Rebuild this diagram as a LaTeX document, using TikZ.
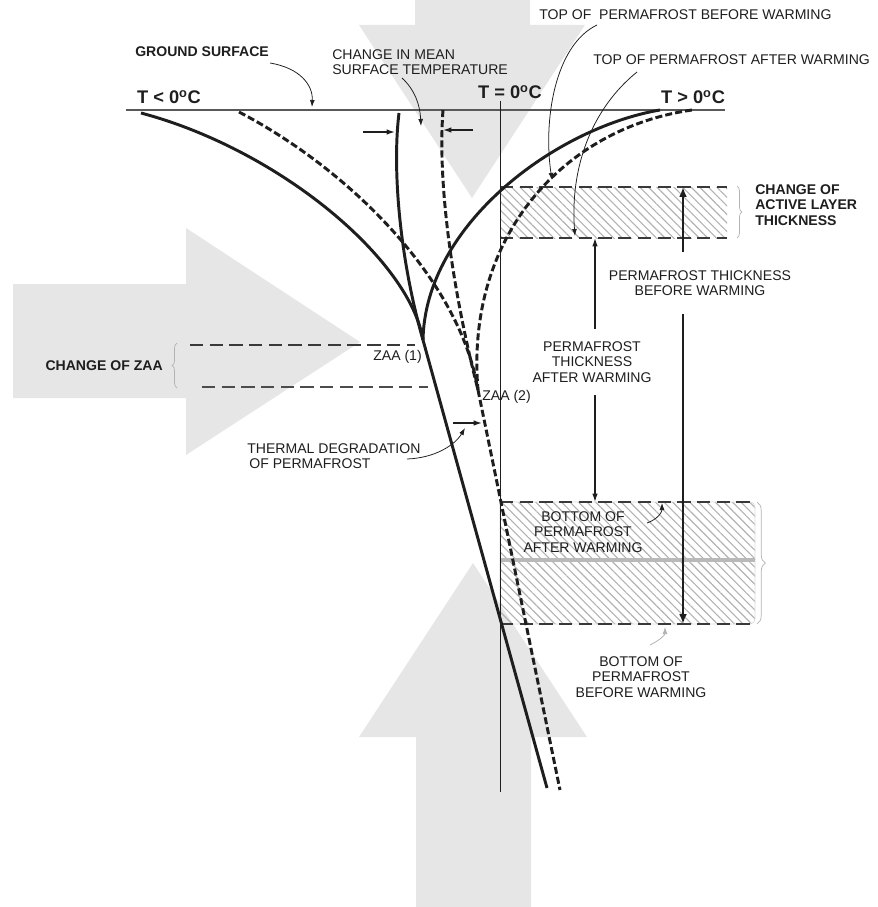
\documentclass[tikz,border=0pt]{standalone}
\usepackage{fontspec}
\setmainfont{Liberation Sans}
\usetikzlibrary{arrows.meta,patterns.meta,decorations.pathreplacing}
\definecolor{bigarrow}{RGB}{230,230,230}
\definecolor{ink}{RGB}{30,30,30}
\begin{document}
\begin{tikzpicture}[x=0.025cm,y=-0.025cm,
  lbl/.style={font=\fontsize{10}{11}\selectfont,text=ink,inner sep=0pt},
  blbl/.style={font=\fontsize{10}{11}\selectfont\bfseries,text=ink,inner sep=0pt},
  tlbl/.style={font=\fontsize{13}{15}\selectfont\bfseries,text=ink,inner sep=0pt},
  prof/.style={line width=2.1pt,ink},
  dprof/.style={line width=2.1pt,ink,dash pattern=on 5pt off 2.2pt},
  note/.style={line width=0.55pt,ink,-{Latex[length=5pt,width=3.5pt]}},
  push/.style={line width=1pt,ink,-{Latex[length=6pt,width=4pt]}},
  zline/.style={line width=1.5pt,gray!45!black,dash pattern=on 9.5pt off 4.5pt},
  hatch/.style={pattern={Lines[angle=-45,distance=4.3pt,line width=0.8pt]},pattern color=gray!60},
  brc/.style={decorate,decoration={brace,amplitude=3.5pt},gray!60,line width=0.5pt}]
\useasboundingbox (0,0) rectangle (877,907);
\fill[bigarrow] (415,0) -- (530,0) -- (530,25) -- (585,25) -- (472,198) -- (359,25) -- (415,25) -- cycle;
\fill[bigarrow] (13,284) -- (186,284) -- (186,228) -- (360,342) -- (186,455) -- (186,398) -- (13,398) -- cycle;
\fill[bigarrow] (416,907) -- (416,737) -- (359,737) -- (473,563) -- (587,737) -- (531,737) -- (531,907) -- cycle;
\fill[hatch] (500,187) rectangle (727,238);
\draw[hatch,draw=gray!30,line width=0.5pt] (500,502) [rounded corners=3.5pt] -- (755,502) -- (755,624) -- (500,624) [sharp corners] -- cycle;
\draw[gray!55,line width=2.2pt] (500,560) -- (755,560);
\draw[zline] (500,187) -- (727,187);
\draw[zline] (500,238) -- (727,238);
\draw[zline] (500,502) -- (755,502);
\draw[zline] (500,624) -- (755,624);
\draw[zline] (190,345) -- (415,345);
\draw[zline,line width=1.1pt,gray!60!black] (202,387) -- (428,387);
\draw[gray!70!black,line width=0.8pt] (126,110) -- (725,110);
\draw[ink,line width=0.7pt] (500,101) -- (500,792);
\coordinate (z1) at (423,340);
\coordinate (z2) at (478,390);
\draw[prof] (141,113) .. controls (280,150) and (410,260) .. (z1);
\draw[prof] (399,113) .. controls (392,170) and (400,260) .. (z1);
\draw[prof] (660,110) .. controls (555,128) and (425,225) .. (z1);
\draw[prof] (z1) -- (547,788);
\draw[dprof] (239,112) .. controls (350,170) and (460,280) .. (z2);
\draw[dprof] (443,110) .. controls (437,190) and (455,300) .. (z2);
\draw[dprof] (692,110) .. controls (565,128) and (465,235) .. (z2);
\draw[dprof] (z2) -- (560,790);
\node[tlbl] (tcold) at (169,97) {T < 0\textsuperscript{o}C};
\node[tlbl] (tzero) at (510,92) {T = 0\textsuperscript{o}C};
\node[tlbl] (twarm) at (693,97) {T > 0\textsuperscript{o}C};
\node[blbl,anchor=west] (gs) at (135,52) {GROUND SURFACE};
\node[lbl,anchor=west,align=left] (cm) at (332,62) {CHANGE IN MEAN\\SURFACE TEMPERATURE};
\node[lbl,anchor=west] (tb) at (539,15) {TOP OF\ \ PERMAFROST BEFORE WARMING};
\node[lbl,anchor=west] (ta) at (593,60) {TOP OF PERMAFROST AFTER WARMING};
\node[blbl,anchor=west,align=left] (cal) at (755,205) {CHANGE OF\\ACTIVE LAYER\\THICKNESS};
\node[lbl,align=center,inner ysep=13pt] (pbw) at (700,283) {PERMAFROST THICKNESS\\BEFORE WARMING};
\node[lbl,align=center,inner ysep=9pt] (paw) at (592,362) {PERMAFROST\\THICKNESS\\AFTER WARMING};
\node[lbl,anchor=east] (zaa1) at (422,357) {ZAA (1)};
\node[lbl,anchor=west] (zaa2) at (482,397) {ZAA (2)};
\node[blbl,anchor=east] (cz) at (163,366) {CHANGE OF ZAA};
\node[lbl,anchor=west,align=left] (td) at (247,456) {THERMAL DEGRADATION\\\hspace{1.5pt}OF PERMAFROST};
\node[lbl,align=center] (baw) at (583,532) {BOTTOM OF\\PERMAFROST\\AFTER WARMING};
\node[lbl,align=center] (bbw) at (641,677) {BOTTOM OF\\PERMAFROST\\BEFORE WARMING};
\coordinate (bwtop) at (683,187);
\coordinate (bwbot) at (683,624);
\coordinate (awtop) at (595,238);
\coordinate (awbot) at (595,502);
\draw[ink,line width=1.6pt,-{Latex[length=7pt,width=5.5pt]}] (pbw.north -| bwtop) -- (bwtop);
\draw[ink,line width=1.6pt,-{Latex[length=7pt,width=5.5pt]}] (pbw.south -| bwbot) -- (bwbot);
\draw[ink,line width=0.9pt,-{Latex[length=6pt,width=4pt]}] (paw.north -| awtop) -- (awtop);
\draw[ink,line width=0.9pt,-{Latex[length=6pt,width=4pt]}] (paw.south -| awbot) -- (awbot);
\draw[brc] (177,388) -- (177,343);
\draw[brc] (737,186) -- (737,238);
\draw[brc,decoration={amplitude=6pt}] (757,502) -- (757,624);
\coordinate (gsfrom) at (270,63);
\coordinate (gsto) at (312,107);
\coordinate (cmfrom) at (402,78);
\coordinate (cmto) at (421,126);
\coordinate (tbfrom) at (597,25);
\coordinate (tbto) at (552,180);
\coordinate (tafrom) at (637,72);
\coordinate (tato) at (575,236);
\coordinate (tdfrom) at (407,459);
\coordinate (tdto) at (465,428);
\coordinate (bawfrom) at (647,523);
\coordinate (bawto) at (662,503);
\coordinate (bbwfrom) at (650,645);
\coordinate (bbwto) at (665,627);
\draw[note] (gsfrom) .. controls (300,68) and (313,85) .. (gsto);
\draw[note] (cmfrom) .. controls (415,90) and (420,105) .. (cmto);
\draw[note] (tbfrom) .. controls (555,45) and (543,120) .. (tbto);
\draw[note] (tafrom) .. controls (590,110) and (570,170) .. (tato);
\draw[note] (tdfrom) .. controls (435,458) and (455,445) .. (tdto);
\draw[note] (bawfrom) .. controls (658,519) and (662,512) .. (bawto);
\draw[note,gray!60] (bbwfrom) .. controls (660,640) and (665,635) .. (bbwto);
\coordinate (sa1) at (363,132);
\coordinate (sa1to) at (395,132);
\coordinate (sa2) at (473,130);
\coordinate (sa2to) at (443,130);
\coordinate (sa3) at (453,423);
\coordinate (sa3to) at (482,423);
\draw[push] (sa1) -- (sa1to);
\draw[push] (sa2) -- (sa2to);
\draw[push] (sa3) -- (sa3to);
\end{tikzpicture}
\end{document}
